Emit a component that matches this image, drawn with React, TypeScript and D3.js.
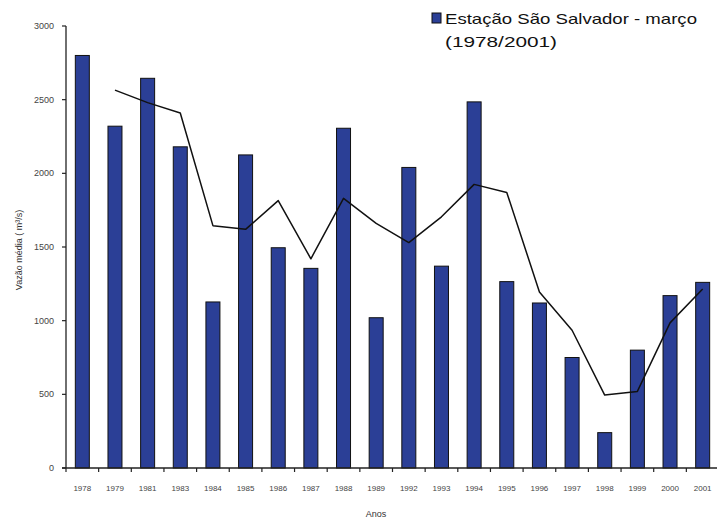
import React from "react";
import * as d3 from "d3";

// Vazão média de março na estação São Salvador, 1978–2001
const years = [
  "1978", "1979", "1981", "1983", "1984", "1985", "1986", "1987", "1988", "1989",
  "1992", "1993", "1994", "1995", "1996", "1997", "1998", "1999", "2000", "2001",
];
const flows = [
  2800, 2320, 2645, 2180, 1127, 2125, 1495, 1355, 2306, 1020,
  2040, 1370, 2485, 1265, 1120, 750, 240, 800, 1170, 1260,
];
// Média móvel (2 períodos) desenhada como linha de tendência
const trend: (number | null)[] = [
  null, 2565, 2480, 2410, 1645, 1620, 1815, 1420, 1830, 1660,
  1530, 1705, 1925, 1870, 1195, 935, 495, 520, 985, 1215,
];
const yTicks = [0, 500, 1000, 1500, 2000, 2500, 3000];
const legendLines = ["Estação São Salvador - março", "(1978/2001)"];
const xTitle = "Anos";
const yTitle = "Vazão média ( m³/s)";

const W = 717;
const H = 523;
const left = 66;
const right = 719;
const top = 26;
const bottom = 468;
const barWidth = 14;
const barColor = "#2b3f96";
const font = "'Liberation Sans', Arial, sans-serif";

export default function App() {
  const x = d3.scaleBand<string>().domain(years).range([left, right]).padding(0);
  const y = d3.scaleLinear().domain([0, 3000]).range([bottom, top]);
  const cx = (d: string) => (x(d) as number) + x.bandwidth() / 2;

  const linePts = years
    .map((yr, i) => ({ yr, v: trend[i] }))
    .filter((p) => p.v !== null) as { yr: string; v: number }[];
  const line = d3
    .line<{ yr: string; v: number }>()
    .x((p) => cx(p.yr))
    .y((p) => y(p.v))
    .curve(d3.curveLinear);

  const boundaries = years.map((yr) => x(yr) as number).concat([right]);

  return (
    <svg
      width={W}
      height={H}
      style={{ position: "absolute", left: 0, top: 0, background: "#fff" }}
      fontFamily={font}
    >
      <rect x={0} y={0} width={W} height={H} fill="#fff" />

      {/* barras */}
      {years.map((yr, i) => (
        <rect
          key={yr}
          x={cx(yr) - barWidth / 2}
          y={y(flows[i])}
          width={barWidth}
          height={bottom - y(flows[i])}
          fill={barColor}
          stroke="#111"
          strokeWidth={1}
        />
      ))}

      {/* linha de tendência */}
      <path
        d={line(linePts) ?? ""}
        fill="none"
        stroke="#111"
        strokeWidth={1.5}
        strokeLinejoin="round"
      />

      {/* eixo y */}
      <line x1={left} x2={left} y1={top} y2={bottom} stroke="#222" strokeWidth={1.3} />
      {yTicks.map((t) => (
        <g key={t}>
          <line x1={left - 4} x2={left} y1={y(t)} y2={y(t)} stroke="#222" strokeWidth={1.2} />
          <text
            x={left - 12}
            y={y(t)}
            dy="0.35em"
            textAnchor="end"
            fontSize={9}
            fill="#444"
          >
            {t}
          </text>
        </g>
      ))}

      {/* eixo x */}
      <line x1={left - 4} x2={right} y1={bottom} y2={bottom} stroke="#222" strokeWidth={1.3} />
      {boundaries.map((b, i) => (
        <line key={i} x1={b} x2={b} y1={bottom} y2={bottom + 4} stroke="#222" strokeWidth={1.2} />
      ))}
      {years.map((yr) => (
        <text
          key={yr}
          x={cx(yr)}
          y={bottom + 23}
          textAnchor="middle"
          fontSize={8}
          fill="#444"
        >
          {yr}
        </text>
      ))}

      {/* títulos dos eixos */}
      <text x={376} y={517} textAnchor="middle" fontSize={9} fill="#333">
        {xTitle}
      </text>
      <text
        transform={`translate(22,250) rotate(-90)`}
        textAnchor="middle"
        fontSize={9}
        fill="#333"
      >
        {yTitle}
      </text>

      {/* legenda */}
      <rect x={432} y={13} width={9} height={10} fill={barColor} stroke="#111" strokeWidth={1} />
      <text
        x={445}
        y={24}
        fontSize={15}
        fill="#111"
        textLength={252}
        lengthAdjust="spacingAndGlyphs"
      >
        {legendLines[0]}
      </text>
      <text
        x={445}
        y={47}
        fontSize={15}
        fill="#111"
        textLength={112}
        lengthAdjust="spacingAndGlyphs"
      >
        {legendLines[1]}
      </text>
    </svg>
  );
}
